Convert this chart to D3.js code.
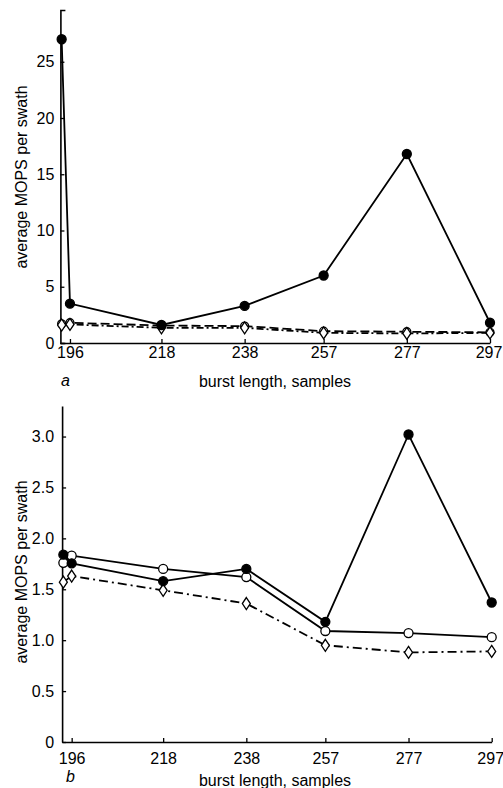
<!DOCTYPE html>
<html>
<head>
<meta charset="utf-8">
<script src="https://cdn.jsdelivr.net/npm/d3@7"></script>
<style>
  body { margin: 0; background: #fff; }
  svg { display: block; font-family: "Liberation Sans", Arial, sans-serif; }
  .tick text { font-size: 16px; fill: #000; }
</style>
</head>
<body>
<svg id="chart" width="503" height="788"></svg>
<script>
// burst lengths (samples) for every measured point
var burstLengths = [194, 196, 218, 238, 257, 277, 297];
var xTickValues = [196, 218, 238, 257, 277, 297];

// panel a
var aFilled = [27.0, 3.5, 1.6, 3.3, 6.0, 16.8, 1.8];
var aOpen = [1.7, 1.8, 1.55, 1.5, 1.05, 1.0, 0.95];
var aDiamond = [1.6, 1.65, 1.35, 1.35, 0.9, 0.85, 0.9];
var aYTicks = [0, 5, 10, 15, 20, 25];

// panel b
var bFilled = [1.84, 1.755, 1.58, 1.70, 1.18, 3.02, 1.37];
var bOpen = [1.76, 1.83, 1.70, 1.62, 1.09, 1.07, 1.03];
var bDiamond = [1.57, 1.63, 1.49, 1.36, 0.95, 0.88, 0.89];
var bYTicks = [0, 0.5, 1.0, 1.5, 2.0, 2.5, 3.0];

var svg = d3.select('#chart');

function drawPanel(opt) {
  var g = svg.append('g');

  var x = d3.scaleLinear().domain([193.7, 297]).range([opt.left, opt.right]);
  var y = d3.scaleLinear().domain([0, opt.yMax]).range([opt.bottom, opt.top]);

  // axes (ticks point inwards)
  var yAxis = d3.axisLeft(y)
    .tickValues(opt.yTicks)
    .tickFormat(opt.yFormat)
    .tickSizeInner(-4)
    .tickSizeOuter(opt.topCap ? -5 : 0)
    .tickPadding(opt.yPad);
  var xAxis = d3.axisBottom(x)
    .tickValues(xTickValues)
    .tickSizeInner(-4)
    .tickSizeOuter(0)
    .tickPadding(opt.xPad);

  g.append('g')
    .attr('transform', 'translate(' + opt.left + ',0)')
    .call(yAxis);
  var xg = g.append('g')
    .attr('transform', 'translate(0,' + opt.bottom + ')')
    .call(xAxis);
  // last label sits against the right edge
  xg.selectAll('.tick text').filter(d => d == 297).attr('dx', -1.5);

  g.selectAll('.domain').style('stroke', '#000').style('stroke-width', 1.6);
  g.selectAll('.tick line').style('stroke', '#000').style('stroke-width', 1.3);

  // lines
  opt.series.forEach(function (s) {
    var pts = burstLengths.map(function (b, i) { return [b, s.values[i]]; });
    var line = d3.line()
      .x(function (d) { return x(d[0]); })
      .y(function (d) { return y(d[1]); });
    g.append('path')
      .datum(pts)
      .attr('d', line)
      .style('fill', 'none')
      .style('stroke', '#000')
      .style('stroke-width', 1.8)
      .style('stroke-dasharray', s.dash);
  });

  // markers
  opt.series.forEach(function (s) {
    var pts = burstLengths.map(function (b, i) { return [b, s.values[i]]; });
    if (s.marker == 'diamond') {
      g.selectAll(null)
        .data(pts)
        .enter()
        .append('path')
        .attr('d', function (d) {
          var cx = x(d[0]), cy = y(d[1]);
          return 'M' + cx + ',' + (cy - 6) + 'L' + (cx + 4) + ',' + cy +
            'L' + cx + ',' + (cy + 6) + 'L' + (cx - 4) + ',' + cy + 'Z';
        })
        .style('fill', '#fff')
        .style('stroke', '#000')
        .style('stroke-width', 1.3);
    } else {
      g.selectAll(null)
        .data(pts)
        .enter()
        .append('circle')
        .attr('cx', d => x(d[0]))
        .attr('cy', d => y(d[1]))
        .attr('r', s.r || 4.5)
        .style('fill', s.marker == 'filled' ? '#000' : '#fff')
        .style('stroke', '#000')
        .style('stroke-width', 1.3);
    }
  });

  // labels
  g.append('text')
    .attr('transform', 'translate(27,' + opt.yLabelY + ') rotate(-90)')
    .attr('text-anchor', 'middle')
    .style('font-size', '16px')
    .text('average MOPS per swath');
  g.append('text')
    .attr('x', 275)
    .attr('y', opt.xLabelY)
    .attr('text-anchor', 'middle')
    .style('font-size', '16px')
    .text('burst length, samples');
  g.append('text')
    .attr('x', opt.letterX)
    .attr('y', opt.letterY)
    .style('font-size', '16px')
    .style('font-style', 'italic')
    .text(opt.letter);
}

drawPanel({
  left: 60.4, right: 490, top: 10, bottom: 343, yMax: 29.6,
  yTicks: aYTicks, yFormat: d3.format('d'), topCap: true,
  yPad: 6, xPad: 4,
  series: [
    { values: aOpen, marker: 'open', dash: '9,4', r: 4 },
    { values: aDiamond, marker: 'diamond', dash: '7,3,2,3' },
    { values: aFilled, marker: 'filled', dash: null }
  ],
  yLabelY: 177, xLabelY: 387, letter: 'a', letterX: 61, letterY: 386
});

drawPanel({
  left: 62.1, right: 491.7, top: 406, bottom: 742, yMax: 3.3,
  yTicks: bYTicks, yFormat: d => d == 0 ? '0' : d3.format('.1f')(d), topCap: false,
  yPad: 8, xPad: 11,
  series: [
    { values: bDiamond, marker: 'diamond', dash: '9,4,2,4' },
    { values: bOpen, marker: 'open', dash: null },
    { values: bFilled, marker: 'filled', dash: null }
  ],
  yLabelY: 572, xLabelY: 786, letter: 'b', letterX: 66, letterY: 782
});
</script>
</body>
</html>
